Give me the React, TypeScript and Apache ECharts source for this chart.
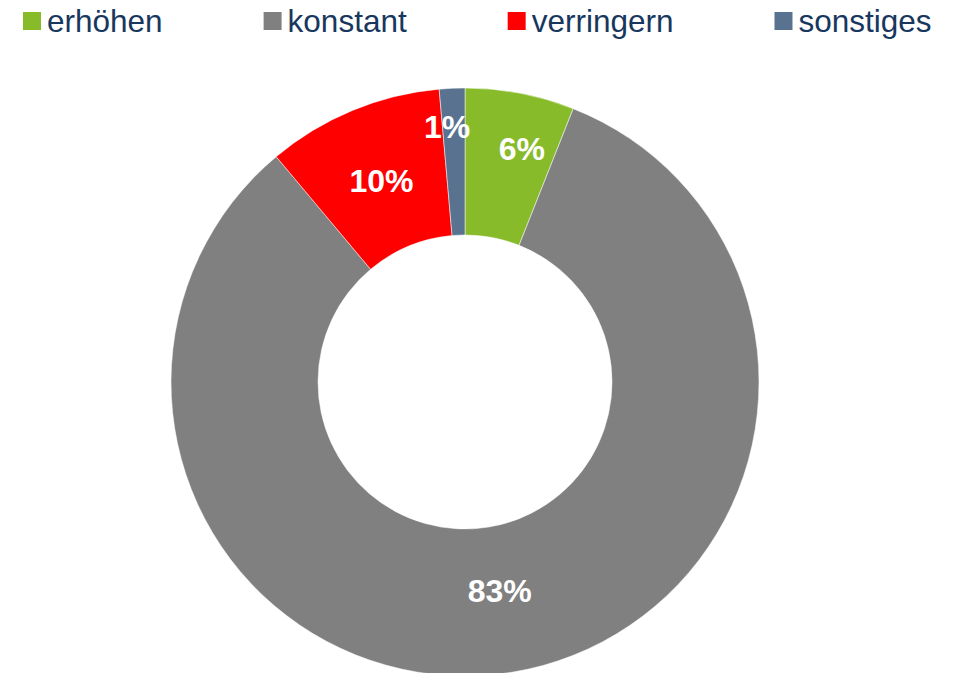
import React, { useEffect, useRef } from "react";
import * as echarts from "echarts";

const categories = ["erhöhen", "konstant", "verringern", "sonstiges"];
const values = [6.0, 82.9, 9.7, 1.4];
const colors = ["#88BB2A", "#808080", "#FF0000", "#58728F"];
const labelOffsets: [number, number][] = [
  [15, -13],
  [-1, -12],
  [2, 5],
  [-8, -32],
];

export default function App() {
  const ref = useRef<HTMLDivElement>(null);
  useEffect(() => {
    if (!ref.current) return;
    const chart = echarts.init(ref.current, null, { renderer: "svg" });
    chart.setOption({
      animation: false,
      backgroundColor: "#ffffff",
      color: colors,
      legend: {
        data: categories,
        left: 21,
        top: 5,
        padding: 0,
        itemWidth: 20,
        itemHeight: 20,
        itemGap: 99,
        icon: "rect",
        textStyle: {
          fontFamily: "Liberation Sans, Arial, sans-serif",
          fontSize: 31.5,
          color: "#17375E",
          padding: [0, 0, 0, 0],
        },
      },
      series: [
        {
          type: "pie",
          center: [465, 382],
          radius: [147, 294],
          startAngle: 90,
          clockwise: true,
          avoidLabelOverlap: false,
          itemStyle: { borderColor: "#ffffff", borderWidth: 0.5 },
          label: {
            show: true,
            position: "inside",
            color: "#ffffff",
            fontFamily: "Liberation Sans, Arial, sans-serif",
            fontWeight: "bold",
            fontSize: 32,
            formatter: (p: any) => Math.round(p.percent) + "%",
          },
          labelLine: { show: false },
          emphasis: { disabled: true },
          data: categories.map((name, i) => ({
            name,
            value: values[i],
            label: { offset: labelOffsets[i] },
          })),
        },
      ],
    });
    return () => chart.dispose();
  }, []);
  return (
    <div
      ref={ref}
      style={{ position: "absolute", left: 0, top: 0, width: 964, height: 673 }}
    />
  );
}
